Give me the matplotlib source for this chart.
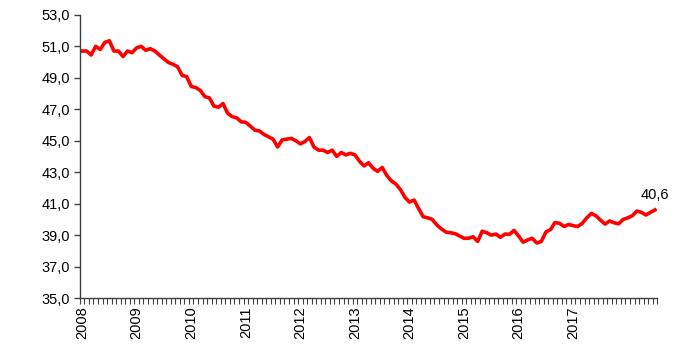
import matplotlib
matplotlib.use("Agg")
import matplotlib.pyplot as plt
from matplotlib.ticker import FixedLocator, FuncFormatter

# Monthly values, Jan 2008 - Jul 2018
values = [
    50.7, 50.7, 50.45, 51.0, 50.8, 51.25, 51.35, 50.7, 50.7, 50.35, 50.7, 50.6,
    50.9, 51.0, 50.75, 50.85, 50.7, 50.45, 50.2, 49.97, 49.86, 49.7, 49.15, 49.08,
    48.45, 48.38, 48.2, 47.8, 47.72, 47.2, 47.13, 47.36, 46.75, 46.53, 46.45, 46.2,
    46.17, 45.93, 45.67, 45.62, 45.4, 45.25, 45.1, 44.6, 45.05, 45.1, 45.15, 45.0,
    44.8, 44.95, 45.2, 44.6, 44.4, 44.4, 44.25, 44.4, 44.0, 44.25, 44.1, 44.2,
    44.1, 43.7, 43.4, 43.6, 43.25, 43.05, 43.3, 42.8, 42.45, 42.25, 41.9, 41.4,
    41.1, 41.23, 40.7, 40.17, 40.1, 40.0, 39.65, 39.4, 39.2, 39.15, 39.1, 38.95,
    38.8, 38.8, 38.9, 38.6, 39.25, 39.15, 39.0, 39.07, 38.86, 39.07, 39.05, 39.3,
    38.95, 38.55, 38.7, 38.8, 38.5, 38.6, 39.2, 39.35, 39.8, 39.75, 39.55, 39.68,
    39.6, 39.55, 39.75, 40.1, 40.38, 40.23, 39.96, 39.7, 39.9, 39.79, 39.72, 40.0,
    40.1, 40.23, 40.53, 40.45, 40.28, 40.45, 40.6,
]
year_labels = ["2008", "2009", "2010", "2011", "2012", "2013", "2014", "2015", "2016", "2017"]
y_ticks = [35, 37, 39, 41, 43, 45, 47, 49, 51, 53]
last_label = "40,6"

plt.rcParams['font.family'] = ['Liberation Sans', 'DejaVu Sans']

fig = plt.figure(figsize=(7, 3.45), dpi=100)
ax = fig.add_axes([0.114, 0.136, 0.825, 0.821])

x = list(range(len(values)))
ax.plot(x, values, color='#FF0000', linewidth=2.6, solid_joinstyle='round')

ax.annotate(last_label, (x[-1], values[-1]), xytext=(0, 6), textcoords='offset points',
            ha='center', va='bottom', fontsize=10.5)

ax.set_ylim(35, 53)
ax.yaxis.set_major_locator(FixedLocator(y_ticks))
ax.yaxis.set_major_formatter(FuncFormatter(lambda v, p: f"{v:.1f}".replace('.', ',')))

ax.set_xlim(-0.5, len(values) - 0.5)
ax.xaxis.set_major_locator(FixedLocator([i * 12 for i in range(len(year_labels))]))
ax.set_xticklabels(year_labels, rotation=90)
ax.xaxis.set_minor_locator(FixedLocator([i + 0.5 for i in range(-1, len(values))]))

for s in ['top', 'right']:
    ax.spines[s].set_visible(False)
for s in ['left', 'bottom']:
    ax.spines[s].set_color('#404040')
    ax.spines[s].set_linewidth(1.0)

ax.tick_params(axis='y', direction='out', length=4, width=1, color='#404040', labelsize=10.5, pad=3)
ax.tick_params(axis='x', which='major', length=0, labelsize=10.5, pad=6)
ax.tick_params(axis='x', which='minor', direction='out', length=4, width=0.8, color='#404040')

fig.savefig('out.png', dpi=100)
